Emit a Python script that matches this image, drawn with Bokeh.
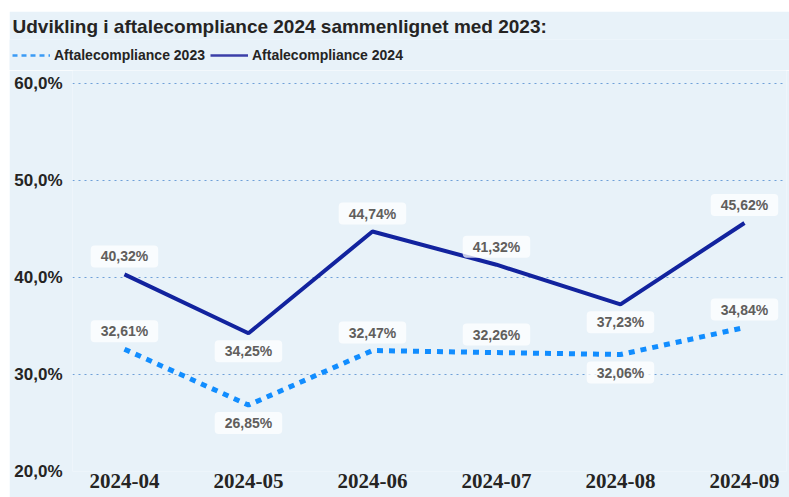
from bokeh.plotting import figure
from bokeh.models import FixedTicker, Legend, LegendItem, Label
from bokeh.embed import file_html
from bokeh.resources import INLINE

# ---- data ----
months = ["2024-04", "2024-05", "2024-06", "2024-07", "2024-08", "2024-09"]
compliance_2023 = [32.61, 26.85, 32.47, 32.26, 32.06, 34.84]
compliance_2024 = [40.32, 34.25, 44.74, 41.32, 37.23, 45.62]
y_ticks = [20, 30, 40, 50, 60]
y_tick_labels = ["20,0%", "30,0%", "40,0%", "50,0%", "60,0%"]
series_names = ["Aftalecompliance 2023", "Aftalecompliance 2024"]
title_text = "Udvikling i aftalecompliance 2024 sammenlignet med 2023:"

# label placement (1 = above, -1 = below)
side_2023 = [1, -1, 1, 1, -1, 1]
side_2024 = [1, -1, 1, 1, -1, 1]

BG = "#E8F2F9"
C23 = "#118DFF"
C24 = "#12239E"
TXT = "#252423"

x = list(range(len(months)))
nan = float("nan")

# ---- header: title + legend ----
head = figure(width=780, height=59, output_backend="svg", toolbar_location=None,
              x_range=(0, 1), y_range=(0, 1), x_axis_location=None, y_axis_location=None,
              min_border_left=0, min_border_right=0, min_border_top=0, min_border_bottom=0,
              background_fill_color=BG, border_fill_color=BG, outline_line_color=None)
head.margin = (11, 0, 0, 9)
head.grid.visible = False
head.title.text = title_text
head.title.align = "left"
head.title.offset = 3
head.title.standoff = 5
head.title.text_font = "Liberation Sans"
head.title.text_font_size = "19px"
head.title.text_font_style = "bold"
head.title.text_color = TXT

l23 = head.line([nan], [nan], line_color="#3A9BF5", line_width=2.5, line_dash="5 4")
l24 = head.line([nan], [nan], line_color="#3B3FA8", line_width=2.5)
legend = Legend(items=[LegendItem(label=series_names[0], renderers=[l23]),
                       LegendItem(label=series_names[1], renderers=[l24])],
                location=(3, 7), orientation="horizontal",
                glyph_width=38, glyph_height=16, label_standoff=4, spacing=5,
                padding=0, margin=0, background_fill_alpha=0, border_line_color=None,
                label_text_font="Liberation Sans", label_text_font_size="14px",
                label_text_font_style="bold", label_text_color=TXT, label_height=16)
head.add_layout(legend)

# ---- main chart ----
p = figure(width=780, height=427, output_backend="svg", toolbar_location=None,
           x_range=(-0.419, 5.339), y_range=(20, 61.34),
           min_border_left=63, min_border_right=3, min_border_top=0, min_border_bottom=26,
           background_fill_color=BG, border_fill_color=BG, outline_line_color=None)
p.margin = (0, 0, 0, 9)

p.xgrid.visible = False
p.ygrid.ticker = FixedTicker(ticks=y_ticks)
p.ygrid.grid_line_color = "#6FA0D8"
p.ygrid.grid_line_dash = "2 4"
p.ygrid.grid_line_width = 1

p.xaxis.ticker = FixedTicker(ticks=x)
p.xaxis.major_label_overrides = {i: m for i, m in zip(x, months)}
p.xaxis.axis_line_color = None
p.xaxis.major_tick_line_color = None
p.xaxis.minor_tick_line_color = None
p.xaxis.major_tick_out = 0
p.xaxis.major_label_standoff = 2
p.xaxis.major_label_text_font = "Liberation Serif"
p.xaxis.major_label_text_font_size = "21px"
p.xaxis.major_label_text_font_style = "bold"
p.xaxis.major_label_text_color = TXT

p.yaxis.ticker = FixedTicker(ticks=y_ticks)
p.yaxis.major_label_overrides = {t: l for t, l in zip(y_ticks, y_tick_labels)}
p.yaxis.axis_line_color = None
p.yaxis.major_tick_line_color = None
p.yaxis.minor_tick_line_color = None
p.yaxis.major_tick_out = 0
p.yaxis.major_label_standoff = 10
p.yaxis.major_label_text_font = "Liberation Sans"
p.yaxis.major_label_text_font_size = "17px"
p.yaxis.major_label_text_font_style = "bold"
p.yaxis.major_label_text_color = TXT

p.line(x, compliance_2023, line_color=C23, line_width=5, line_dash="6 6")
p.line(x, compliance_2024, line_color=C24, line_width=4)

for vals, sides in ((compliance_2023, side_2023), (compliance_2024, side_2024)):
    for i, v, s in zip(x, vals, sides):
        txt = f"{v:.2f}".replace(".", ",") + "%"
        p.add_layout(Label(x=i, y=v, text=txt, y_offset=18 * s,
                           text_align="center", text_baseline="middle",
                           text_font="Liberation Sans", text_font_size="14px",
                           text_font_style="bold", text_color="#605E5C",
                           background_fill_color="white", background_fill_alpha=0.75,
                           border_radius=4, padding=(10, 3)))

open("out.html", "w").write(file_html([head, p], INLINE))
